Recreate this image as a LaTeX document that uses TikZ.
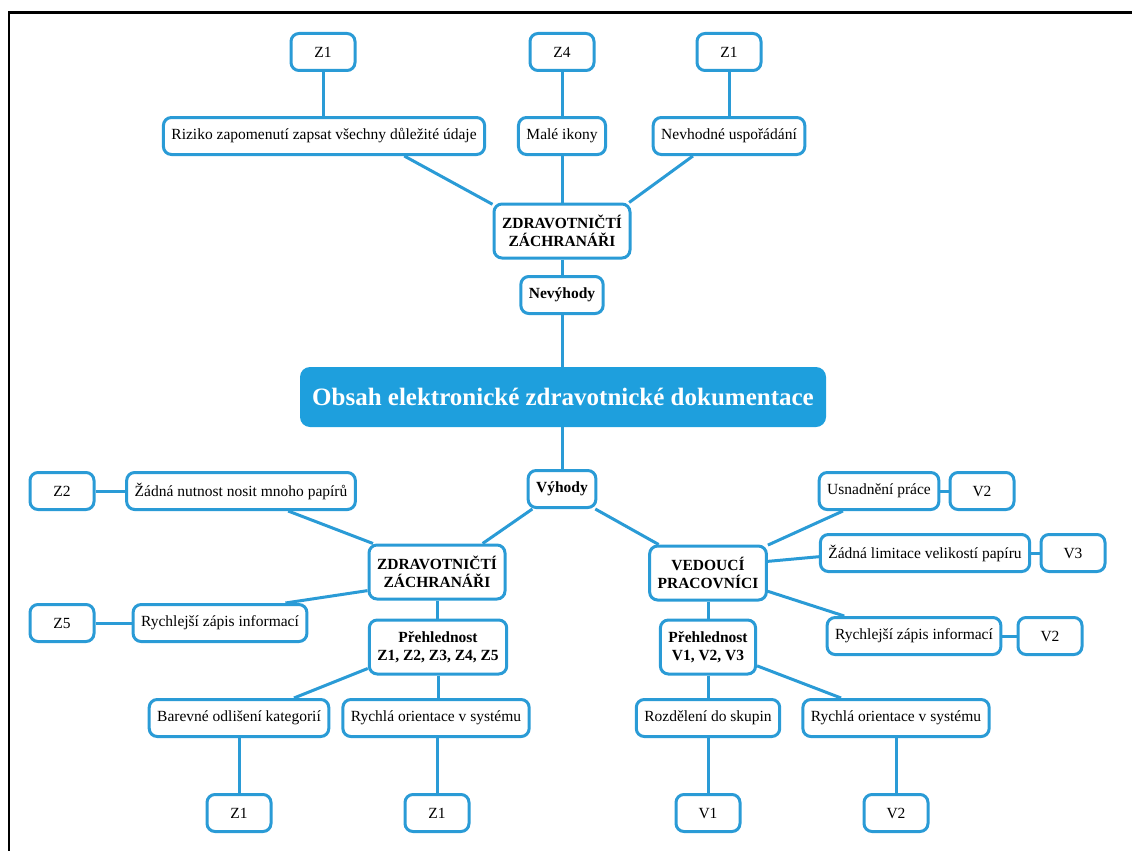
\documentclass[tikz,border=0pt]{standalone}
\usepackage{fontspec}
\setmainfont{Liberation Serif}
\usetikzlibrary{backgrounds}
\definecolor{mblue}{HTML}{2A9BD6}
\definecolor{tblue}{HTML}{1E9FDD}
\begin{document}
\begin{tikzpicture}[x=1pt,y=-1pt,
 box/.style={draw=mblue, line width=3pt, rounded corners=8pt, fill=white, inner xsep=8pt, inner ysep=4pt, minimum height=37pt, font=\fontsize{15.5}{18.5}\selectfont, align=center},
 code/.style={box, minimum width=64pt},
 bbox/.style={box, font=\fontsize{15.5}{18.5}\selectfont\bfseries},
 big/.style={bbox, minimum height=54pt},
 link/.style={draw=mblue, line width=3pt},
 titlebox/.style={fill=tblue, rounded corners=10pt, minimum width=526pt, minimum height=60pt, text=white, font=\fontsize{25}{30}\selectfont\bfseries}]
\useasboundingbox (0,0) rectangle (1132,851);
\draw[line width=2.5pt] (1132,12.5) -- (9,12.5) -- (9,851);

\node[code] (z1a) at (323,52) {Z1};
\node[code] (z4) at (562,52) {Z4};
\node[code] (z1b) at (729,52) {Z1};
\node[box] (riz) at (324,136) {Riziko zapomenutí zapsat všechny důležité údaje};
\node[box] (male) at (562,136) {Malé ikony};
\node[box] (nev) at (729,136) {Nevhodné uspořádání};
\node[big] (zt) at (562,231) {ZDRAVOTNIČTÍ\\ZÁCHRANÁŘI};
\node[bbox] (nevy) at (562,295) {Nevýhody};
\node[titlebox] (tit) at (563,397) {Obsah elektronické zdravotnické dokumentace};
\node[bbox] (vyh) at (562,489) {Výhody};

\node[big] (zl) at (437,572) {ZDRAVOTNIČTÍ\\ZÁCHRANÁŘI};
\node[code] (z2) at (62,491) {Z2};
\node[box] (zadna) at (241,491) {Žádná nutnost nosit mnoho papírů};
\node[code] (z5) at (62,623) {Z5};
\node[box] (rychl) at (220,623) {Rychlejší zápis informací};
\node[big] (prz) at (438,647) {Přehlednost\\Z1, Z2, Z3, Z4, Z5};
\node[box] (bar) at (239,718) {Barevné odlišení kategorií};
\node[box] (orl) at (436,718) {Rychlá orientace v systému};
\node[code] (z1c) at (239,813) {Z1};
\node[code] (z1d) at (437,813) {Z1};

\node[big] (ved) at (708,573) {VEDOUCÍ\\PRACOVNÍCI};
\node[box] (usn) at (879,491) {Usnadnění práce};
\node[code] (v2a) at (982,491) {V2};
\node[box] (lim) at (925,553) {Žádná limitace velikostí papíru};
\node[code] (v3) at (1073,553) {V3};
\node[box] (rychr) at (914,636) {Rychlejší zápis informací};
\node[code] (v2b) at (1050,636) {V2};
\node[big] (prv) at (708,647) {Přehlednost\\V1, V2, V3};
\node[box] (roz) at (708,718) {Rozdělení do skupin};
\node[box] (orr) at (896,718) {Rychlá orientace v systému};
\node[code] (v1) at (708,813) {V1};
\node[code] (v2c) at (896,813) {V2};

\begin{scope}[on background layer]
\draw[link] (z1a.south) -- (z1a.south |- riz.north);
\draw[link] (z4.south) -- (z4.south |- male.north);
\draw[link] (z1b.south) -- (z1b.south |- nev.north);
\draw[link] (riz.-14) -- (zt.159);
\draw[link] (male.south) -- (male.south |- zt.north);
\draw[link] (nev.-151) -- (zt.23);
\draw[link] (zt.south) -- (zt.south |- nevy.north);
\draw[link] (nevy.south) -- (nevy.south |- tit.north);
\draw[link] (vyh.north |- tit.south) -- (vyh.north);
\draw[link] (vyh.-146) -- (zl.32);
\draw[link] (vyh.-31) -- (ved.150);
\draw[link] (z2.east) -- (zadna.west);
\draw[link] (zadna.-23) -- (zl.156);
\draw[link] (zl.-165) -- (rychl.17);
\draw[link] (z5.east) -- (rychl.west);
\draw[link] (zl.south) -- (zl.south |- prz.north);
\draw[link] (prz.-163) -- (bar.20);
\draw[link] (orl.north -| prz.south) -- (prz.south);
\draw[link] (bar.south) -- (bar.south |- z1c.north);
\draw[link] (z1d.north |- orl.south) -- (z1d.north);
\draw[link] (ved.25) -- (usn.-151);
\draw[link] (usn.east) -- (v2a.west);
\draw[link] (ved.11) -- (lim.-178);
\draw[link] (lim.east) -- (v3.west);
\draw[link] (ved.-17) -- (rychr.164);
\draw[link] (rychr.east) -- (v2b.west);
\draw[link] (ved.south) -- (ved.south |- prv.north);
\draw[link] (prv.south) -- (prv.south |- roz.north);
\draw[link] (prv.-21) -- (orr.160);
\draw[link] (roz.south) -- (roz.south |- v1.north);
\draw[link] (orr.south) -- (orr.south |- v2c.north);
\end{scope}
\end{tikzpicture}
\end{document}
